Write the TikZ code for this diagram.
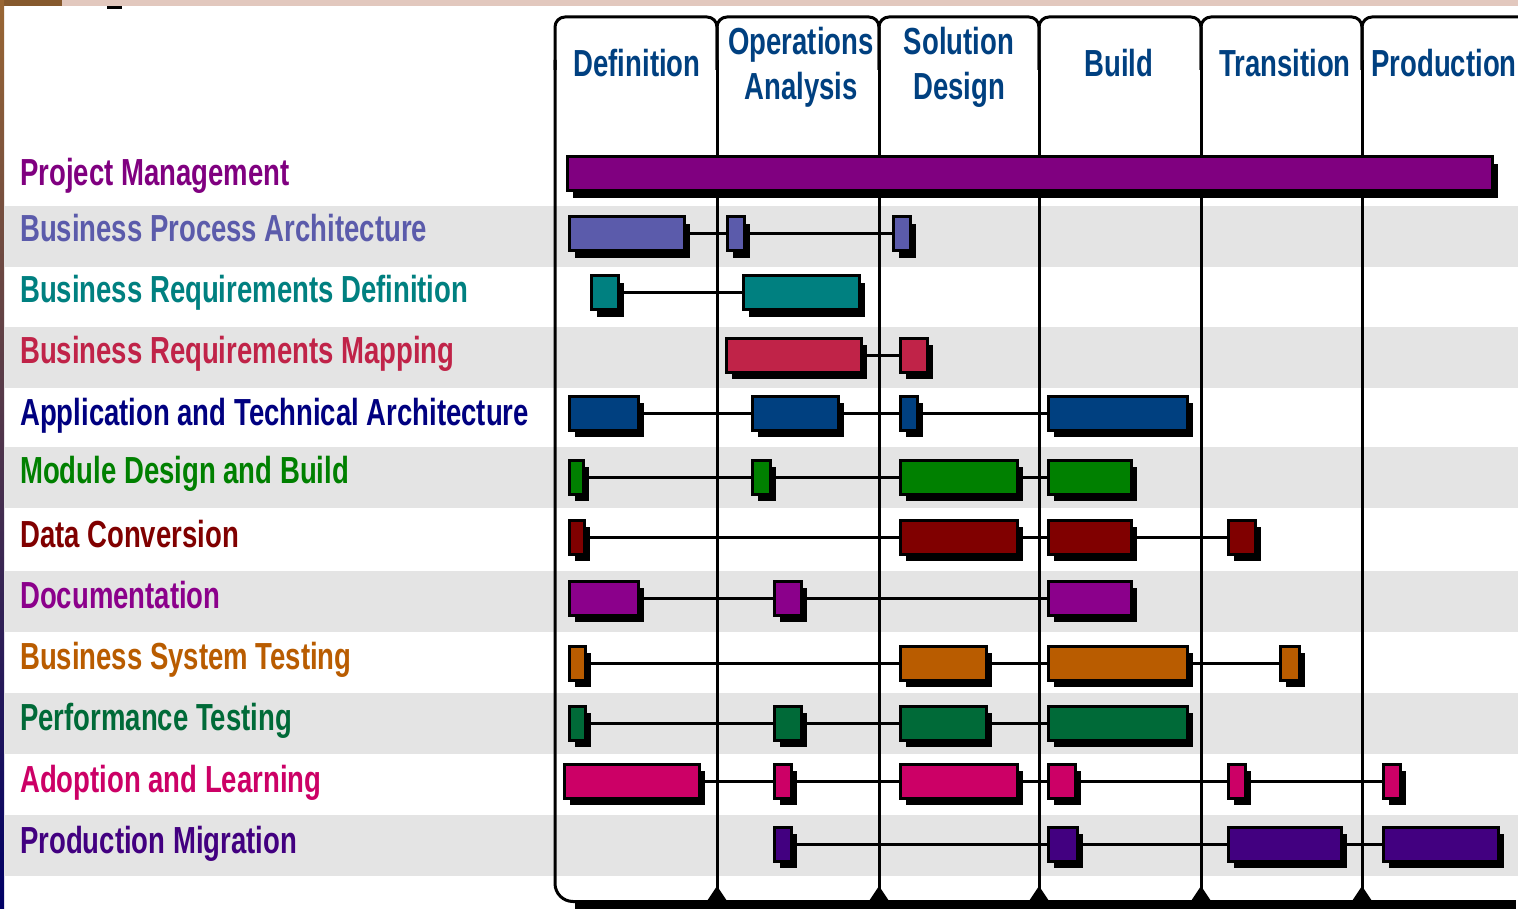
\documentclass[tikz,border=0pt]{standalone}
\usepackage{fontspec}
\setmainfont{Liberation Sans}[FakeStretch=0.73]
\usetikzlibrary{shadows}

\pgfdeclarelayer{back}
\pgfdeclarelayer{wires}
\pgfsetlayers{back,wires,main}

% row colours
\definecolor{pmcol}{HTML}{800080}
\definecolor{bpacol}{HTML}{5B5BAB}
\definecolor{brdcol}{HTML}{008080}
\definecolor{brmcol}{HTML}{C02348}
\definecolor{atacol}{HTML}{004080}
\definecolor{atatxt}{HTML}{000080}
\definecolor{mdbcol}{HTML}{008000}
\definecolor{dccol}{HTML}{800000}
\definecolor{doccol}{HTML}{8B008B}
\definecolor{bstcol}{HTML}{B95C00}
\definecolor{ptcol}{HTML}{006A38}
\definecolor{alcol}{HTML}{CC0066}
\definecolor{pmigcol}{HTML}{420080}
\definecolor{headcol}{HTML}{004080}
\definecolor{bandcol}{HTML}{E4E4E4}
\definecolor{stripcol}{HTML}{E2C8BE}

\tikzset{
  task/.style={draw=black, line width=3pt, inner sep=0pt, minimum height=34pt,
    drop shadow={shadow xshift=5pt, shadow yshift=-7pt, fill=black, opacity=1}},
  link/.style={line width=3pt},
  frame/.style={line width=3pt},
  bigfont/.style={font=\bfseries\fontsize{37.7}{45}\selectfont},
  rowlabel/.style={bigfont, anchor=base west, inner sep=0pt},
  phase/.style={bigfont, anchor=base, inner sep=0pt, align=center, text=headcol},
}

% one row of bars: prefix, colour, y, list of i/left/right
\newcommand{\taskrow}[4]{%
  \foreach \i/\a/\b in {#4} {
    \pgfmathsetmacro{\w}{\b-\a-3}
    \node[task, fill=#2, minimum width=\w pt] (#1\i) at ({(\a+\b)/2},#3) {};
  }
}

\begin{document}
\begin{tikzpicture}[x=1pt, y=-1pt]
  \useasboundingbox (0,0) rectangle (1518,909);

  \begin{pgfonlayer}{back}
    \fill[white] (0,0) rectangle (1518,909);
    \fill[stripcol] (0,0) rectangle (1518,6); % top strip
    \fill[brown!70!black] (0,0) rectangle (62,6);
    \shade[top color=brown!80!black, bottom color=blue!40!black] (0,0) rectangle (4,909); % left strip
    \fill[black] (107,6) rectangle (122,9);
    % shaded rows
    \foreach \t in {206,327,447,571,693,815}
      \fill[bandcol] (4,\t) rectangle (1518,\t+61);
  \end{pgfonlayer}

  % phase tabs and column lines
  \begin{pgfonlayer}{wires}
    \foreach \l/\r in {555/717, 717/879, 879/1039, 1039/1201, 1201/1362, 1362/1540}
      \draw[frame, rounded corners=10pt] (\l,70) -- (\l,17) -- (\r,17) -- (\r,70);
    \foreach \x in {717,879,1039,1201,1362}
      \draw[frame] (\x,60) -- (\x,901);
    \draw[frame, rounded corners=18pt] (555,60) -- (555,901.5) -- (600,901.5);
    \fill (575,900) rectangle (1516,909);
    \foreach \x in {717,879,1039,1201,1362}
      \fill (\x-10,901) -- (\x,886) -- (\x+10,901) -- cycle; % small feet
  \end{pgfonlayer}

  % phase names
  \node[phase] (hdDef) at (637,77) {Definition};
  \node[phase] (hdOps) at (801,100) {Operations\\Analysis};
  \node[phase] (hdSol) at (959,100) {Solution\\Design};
  \node[phase] (hdBld) at (1119,77) {Build};
  \node[phase] (hdTrn) at (1285,77) {Transition};
  \node[phase] (hdPrd) at (1444,77) {Production};

  % row names
  \node[rowlabel, text=pmcol]   (lPM)   at (20,186) {Project Management};
  \node[rowlabel, text=bpacol]  (lBPA)  at (20,242) {Business Process Architecture};
  \node[rowlabel, text=brdcol]  (lBRD)  at (20,303) {Business Requirements Definition};
  \node[rowlabel, text=brmcol]  (lBRM)  at (20,363) {Business Requirements Mapping};
  \node[rowlabel, text=atatxt]  (lATA)  at (20,425) {Application and Technical Architecture};
  \node[rowlabel, text=mdbcol]  (lMDB)  at (20,483) {Module Design and Build};
  \node[rowlabel, text=dccol]   (lDC)   at (20,547) {Data Conversion};
  \node[rowlabel, text=doccol]  (lDoc)  at (20,608) {Documentation};
  \node[rowlabel, text=bstcol]  (lBST)  at (20,669) {Business System Testing};
  \node[rowlabel, text=ptcol]   (lPT)   at (20,730) {Performance Testing};
  \node[rowlabel, text=alcol]   (lAL)   at (20,792) {Adoption and Learning};
  \node[rowlabel, text=pmigcol] (lPMig) at (20,853) {Production Migration};

  % bars
  \taskrow{pm}{pmcol}{174}{1/566/1494}
  \taskrow{bpa}{bpacol}{234}{1/568/686, 2/726/746, 3/892/912}
  \taskrow{brd}{brdcol}{293}{1/590/620, 2/742/861}
  \taskrow{brm}{brmcol}{355}{1/725/863, 2/899/929}
  \taskrow{ata}{atacol}{413}{1/568/640, 2/751/840, 3/899/919, 4/1047/1189}
  \taskrow{mdb}{mdbcol}{477}{1/568/585, 2/751/772, 3/899/1019, 4/1047/1133}
  \taskrow{dc}{dccol}{537}{1/568/586, 2/899/1019, 3/1047/1133, 4/1227/1257}
  \taskrow{doc}{doccol}{598}{1/568/640, 2/773/803, 3/1047/1133}
  \taskrow{bst}{bstcol}{663}{1/568/587, 2/899/988, 3/1047/1189, 4/1279/1301}
  \taskrow{pt}{ptcol}{723}{1/568/587, 2/773/803, 3/899/988, 4/1047/1189}
  \taskrow{al}{alcol}{781}{1/563/701, 2/773/793, 3/899/1019, 4/1047/1077, 5/1227/1247, 6/1382/1402}
  \taskrow{pmig}{pmigcol}{844}{1/773/793, 2/1047/1079, 3/1227/1343, 4/1382/1500}

  % links between bars
  \begin{pgfonlayer}{wires}
    \draw[link] (bpa1) -- (bpa2) -- (bpa3);
    \draw[link] (brd1) -- (brd2);
    \draw[link] (brm1) -- (brm2);
    \draw[link] (ata1) -- (ata2) -- (ata3) -- (ata4);
    \draw[link] (mdb1) -- (mdb2) -- (mdb3) -- (mdb4);
    \draw[link] (dc1) -- (dc2) -- (dc3) -- (dc4);
    \draw[link] (doc1) -- (doc2) -- (doc3);
    \draw[link] (bst1) -- (bst2) -- (bst3) -- (bst4);
    \draw[link] (pt1) -- (pt2) -- (pt3) -- (pt4);
    \draw[link] (al1) -- (al2) -- (al3) -- (al4) -- (al5) -- (al6);
    \draw[link] (pmig1) -- (pmig2) -- (pmig3) -- (pmig4);
  \end{pgfonlayer}
\end{tikzpicture}
\end{document}
